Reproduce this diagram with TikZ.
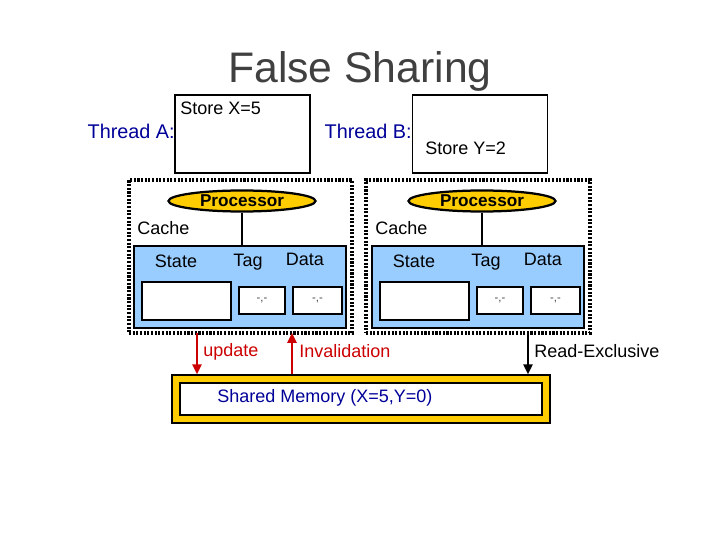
\documentclass[tikz,border=0pt]{standalone}
\usepackage{fontspec}
\setmainfont{Liberation Sans}
\definecolor{fsblue}{RGB}{0,0,153}
\definecolor{fsred}{RGB}{204,0,0}
\definecolor{fsgray}{RGB}{64,64,64}
\definecolor{fscache}{RGB}{153,204,255}
\definecolor{fsyellow}{RGB}{255,204,0}
\usepackage{tikz}
\usetikzlibrary{arrows.meta,positioning,shapes.geometric}
\newcommand{\fsfont}{\fontsize{12.8}{15}\selectfont}

\begin{document}
\begin{tikzpicture}[
  txt/.style={font=\fsfont, inner sep=0pt},
  threadbox/.style={draw, line width=1.4pt, minimum width=3.375cm, minimum height=1.95cm},
  nodebox/.style={draw, line width=2.4pt, dash pattern=on 1.5pt off 1.1pt, minimum width=5.575cm, minimum height=3.825cm},
  proc/.style={ellipse, draw, line width=1.6pt, fill=fsyellow, inner sep=0pt, minimum width=3.675cm, minimum height=0.525cm, font=\fontsize{12.2}{14}\selectfont\bfseries},
  cachebox/.style={draw, line width=2pt, fill=fscache, minimum width=5.3cm, minimum height=2.05cm},
  statebox/.style={draw, line width=2pt, fill=white, minimum width=2.225cm, minimum height=0.95cm},
  fieldbox/.style={draw, line width=2pt, fill=white, minimum height=0.675cm, inner sep=0pt, font=\fontsize{8}{9}\selectfont, text=darkgray},
  sig/.style={-{Triangle[length=7pt,width=6.5pt]}, line width=1.5pt}
]
  \useasboundingbox (0,0) rectangle (18,13.5);

  %--- Title ---
  \node[font=\fontsize{30.4}{34}\selectfont, text=fsgray] (title) at (9.0,11.72) {False Sharing};

  %--- Threads ---
  \node[threadbox] (thrA) at (6.0625,10.15) {};
  \node[txt, anchor=west] at (4.5,10.8) {Store X=5};
  \node[txt, anchor=east, text=fsblue, font=\fontsize{14.1}{16}\selectfont] at (4.375,10.225) {Thread A:};
  \node[threadbox] (thrB) at (12.0,10.15) {};
  \node[txt, anchor=west] at (10.625,9.8) {Store Y=2};
  \node[txt, anchor=east, text=fsblue, font=\fontsize{14.1}{16}\selectfont] at (10.3,10.225) {Thread B:};

  %--- Left node: processor + cache ---
  \node[nodebox] (nodeA) at (6.0125,7.0875) {};
  \node[proc] (procA) at (6.05,8.475) {Processor};
  \node[txt, anchor=west] at (3.425,7.8) {Cache};
  \node[cachebox] (cacheA) at (6.0,6.325) {};
  \draw[line width=1.4pt] (procA.south) -- (procA.south |- cacheA.north);
  \node[txt] at (4.4,6.97) {State};
  \node[txt] at (6.2,6.94) {Tag};
  \node[txt] at (7.625,7.01) {Data};
  \node[statebox] (stateA) at (4.6625,5.975) {};
  \node[fieldbox, minimum width=1.15cm] (tagA) at (6.55,5.9875) {-,-};
  \node[fieldbox, minimum width=1.225cm] (dataA) at (7.9375,5.9875) {-,-};

  %--- Right node: processor + cache ---
  \node[nodebox, minimum width=5.6cm] (nodeB) at (11.95,7.0875) {};
  \node[proc] (procB) at (12.05,8.475) {Processor};
  \node[txt, anchor=west] at (9.375,7.8) {Cache};
  \node[cachebox] (cacheB) at (11.95,6.325) {};
  \draw[line width=1.4pt] (procB.south) -- (procB.south |- cacheB.north);
  \node[txt] at (10.35,6.97) {State};
  \node[txt] at (12.15,6.94) {Tag};
  \node[txt] at (13.575,7.01) {Data};
  \node[statebox] (stateB) at (10.6125,5.975) {};
  \node[fieldbox, minimum width=1.15cm] (tagB) at (12.5,5.9875) {-,-};
  \node[fieldbox, minimum width=1.225cm] (dataB) at (13.8875,5.9875) {-,-};

  %--- Shared memory ---
  \node[draw, line width=1pt, fill=fsyellow, minimum width=9.45cm, minimum height=1.2cm] (memOut) at (9.025,3.525) {};
  \node[draw, line width=2pt, fill=white, minimum width=9.05cm, minimum height=0.8cm] (mem) at (memOut.center) {};
  \node[txt, anchor=west, text=fsblue] at (5.425,3.55) {Shared Memory (X=5,Y=0)};

  %--- Bus transactions ---
  \coordinate (updA) at (4.925,5.175);
  \coordinate (invA) at (7.3,5.175);
  \coordinate (rexB) at (13.2,5.175);
  \draw[sig, fsred] (updA) -- (updA |- memOut.north);
  \draw[sig, fsred] (invA |- memOut.north) -- (invA);
  \draw[sig] (rexB) -- (rexB |- memOut.north);
  \node[txt, anchor=west, text=fsred] at (5.075,4.7) {update};
  \node[txt, anchor=west, text=fsred] at (7.475,4.725) {Invalidation};
  \node[txt, anchor=west] at (13.35,4.725) {Read-Exclusive};
\end{tikzpicture}
\end{document}
